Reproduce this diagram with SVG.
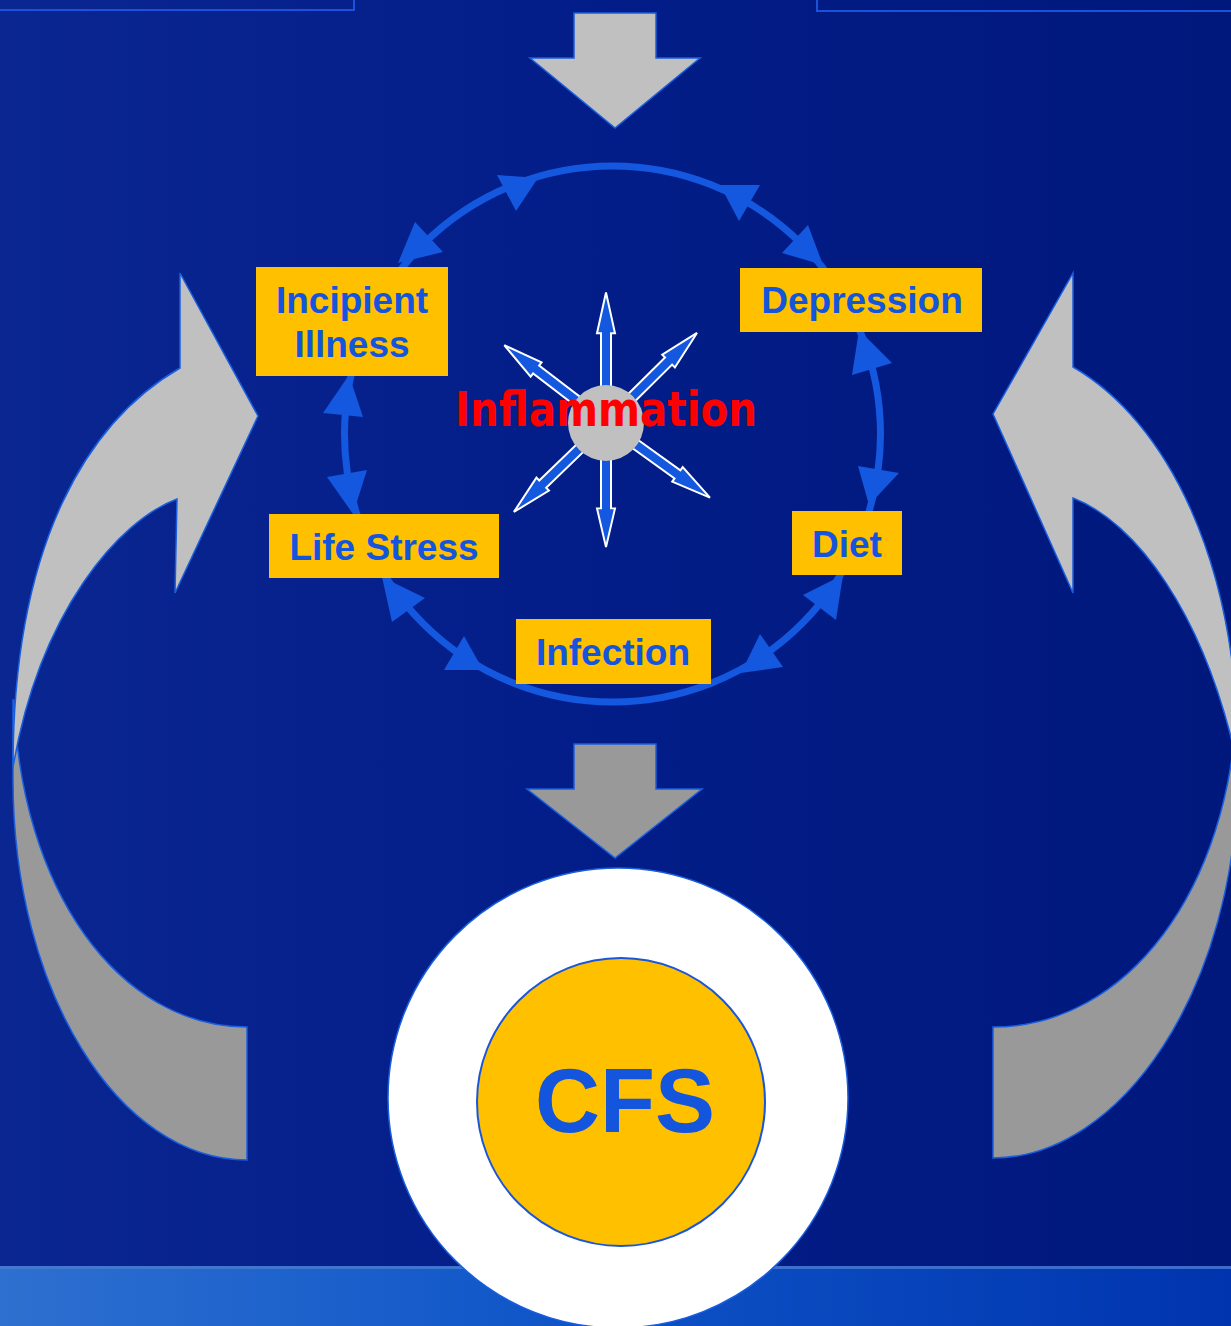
<svg xmlns="http://www.w3.org/2000/svg" xmlns:xlink="http://www.w3.org/1999/xlink" width="1231" height="1326" viewBox="0 0 1231 1326">
  <defs>
    <linearGradient id="bg" x1="0" y1="0" x2="1" y2="0">
      <stop offset="0" stop-color="#0a2690"/>
      <stop offset="0.5" stop-color="#031d88"/>
      <stop offset="1" stop-color="#00187c"/>
    </linearGradient>
    <linearGradient id="band" x1="0" y1="0" x2="1" y2="0">
      <stop offset="0" stop-color="#2e70d0"/>
      <stop offset="0.45" stop-color="#0f55c8"/>
      <stop offset="1" stop-color="#0034ae"/>
    </linearGradient>
    <path id="starArrow" d="M0,-5 H88 V-9 L128,0 L88,9 V5 H0 Z"/>
  </defs>
  <style>
    .box { fill: #ffc000; }
    .lbl { font-family: "Liberation Sans", Arial, sans-serif; font-weight: bold; font-size: 37px; fill: #1455dd; text-anchor: middle; }
    .ring { fill: none; stroke: #1458e0; stroke-width: 7; }
    .head { fill: #1458e0; }
    .star { fill: #1458e0; stroke: #ffffff; stroke-width: 2; }
    .light { fill: #c0c0c0; stroke: #1a5ee0; stroke-width: 1.5; }
    .dark { fill: #999999; stroke: #1a5ee0; stroke-width: 1.5; }
  </style>

  <!-- background -->
  <rect x="0" y="0" width="1231" height="1326" fill="url(#bg)"/>
  <rect x="0" y="1266" width="1231" height="60" fill="url(#band)"/>
  <rect x="0" y="1266" width="1231" height="3" fill="#4a7ad0" opacity="0.8"/>

  <!-- partial boxes at top edge -->
  <g id="top-boxes" fill="none" stroke="#1a52dc" stroke-width="2">
    <rect x="-5" y="-10" width="359" height="20"/>
    <rect x="817" y="-10" width="420" height="21"/>
  </g>

  <!-- big flow arrows -->
  <g id="flow-arrows">
    <polygon class="light" points="574,13 656,13 656,58 700,58 615,128 530,58 574,58"/>
    <polygon class="dark" points="574,744 656,744 656,789 702,789 615,858 527,789 574,789"/>
    <!-- left curved arrow -->
    <path class="dark" d="M247,1160 C118,1160 13,990 13,780 L13,700 L14,700 C20,890 119,1027 247,1027 Z"/>
    <path class="light" d="M13,767 C13,540 90,420 180,368 L180,273 L258,416 L175,593 L177,499 C120,520 40,610 13,767 Z"/>
    <!-- right curved arrow -->
    <path class="dark" d="M993,1158 C1120,1158 1238,990 1238,767 L1238,700 L1237,700 C1231,890 1127,1027 993,1027 Z"/>
    <path class="light" d="M1238,767 C1240,560 1165,420 1073,367 L1073,273 L993,414 L1073,593 L1073,498 C1135,522 1205,612 1238,767 Z"/>
  </g>

  <!-- connectors: ring with arrowheads -->
  <g id="connectors">
    <circle class="ring" cx="612.5" cy="434" r="268"/>
    <polygon class="head" points="415,222 443,252 398,263"/>
    <polygon class="head" points="497,175 538,178 516,211"/>
    <polygon class="head" points="720,185 760,185 739,221"/>
    <polygon class="head" points="782,253 808,225 823,265"/>
    <polygon class="head" points="349,375 363,417 323,413"/>
    <polygon class="head" points="327,477 367,470 353,514"/>
    <polygon class="head" points="859,330 892,363 852,375"/>
    <polygon class="head" points="858,466 899,473 869,505"/>
    <polygon class="head" points="382,577 425,598 392,622"/>
    <polygon class="head" points="464,636 483,670 444,670"/>
    <polygon class="head" points="760,634 783,667 741,673"/>
    <polygon class="head" points="843,575 836,620 803,595"/>
  </g>

  <!-- inflammation hub -->
  <g id="inflammation">
    <use xlink:href="#starArrow" href="#starArrow" class="star" transform="translate(606,423) rotate(-90) scale(1.02,1)"/>
    <use xlink:href="#starArrow" href="#starArrow" class="star" transform="translate(606,423) rotate(-44.7)"/>
    <use xlink:href="#starArrow" href="#starArrow" class="star" transform="translate(606,423) rotate(35.7)"/>
    <use xlink:href="#starArrow" href="#starArrow" class="star" transform="translate(606,423) rotate(90) scale(0.97,1)"/>
    <use xlink:href="#starArrow" href="#starArrow" class="star" transform="translate(606,423) rotate(136)"/>
    <use xlink:href="#starArrow" href="#starArrow" class="star" transform="translate(606,423) rotate(-142.6)"/>
    <circle cx="606" cy="423" r="38" fill="#c0c0c0"/>
    <text x="606" y="426" font-family="'Comic Sans MS', 'DejaVu Sans', sans-serif" font-weight="bold" font-size="48" fill="#ff0000" text-anchor="middle" textLength="302" lengthAdjust="spacingAndGlyphs">Inflammation</text>
  </g>

  <g id="incipient-illness">
    <rect class="box" x="256" y="267" width="192" height="109"/>
    <text class="lbl" x="352" y="313">Incipient</text>
    <text class="lbl" x="352" y="357">Illness</text>
  </g>
  <g id="depression">
    <rect class="box" x="740" y="268" width="242" height="64"/>
    <text class="lbl" x="862" y="313">Depression</text>
  </g>
  <g id="life-stress">
    <rect class="box" x="269" y="514" width="230" height="64"/>
    <text class="lbl" x="384" y="560">Life Stress</text>
  </g>
  <g id="diet">
    <rect class="box" x="792" y="511" width="110" height="64"/>
    <text class="lbl" x="847" y="557">Diet</text>
  </g>
  <g id="infection">
    <rect class="box" x="516" y="619" width="195" height="65"/>
    <text class="lbl" x="613" y="665">Infection</text>
  </g>

  <g id="cfs">
    <circle cx="618" cy="1098" r="230" fill="#ffffff" stroke="#1a5ee0" stroke-width="1.5"/>
    <circle cx="621" cy="1102" r="144" fill="#ffc000" stroke="#1a56db" stroke-width="2"/>
    <text x="625" y="1132" font-family="'Liberation Sans', Arial, sans-serif" font-weight="bold" font-size="90" fill="#1455dd" text-anchor="middle">CFS</text>
  </g>
</svg>
